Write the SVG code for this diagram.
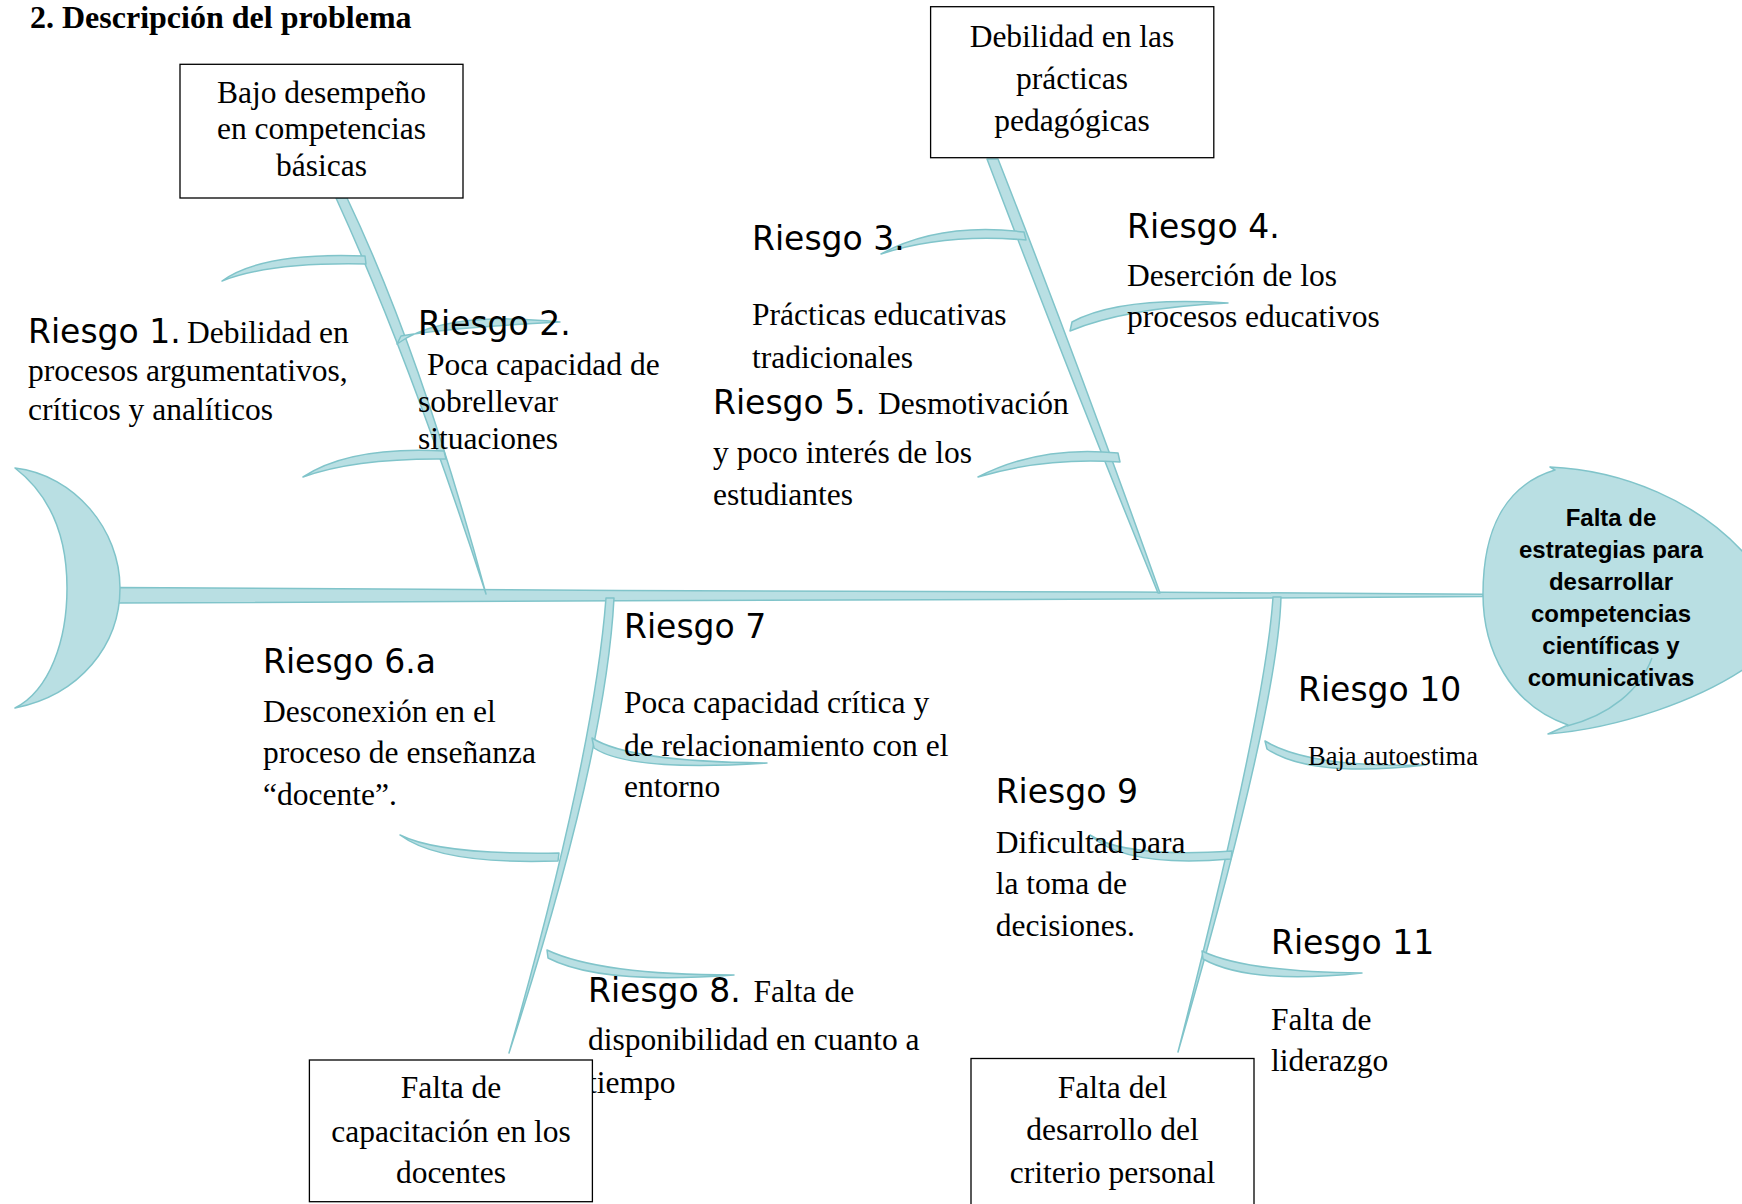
<svg xmlns="http://www.w3.org/2000/svg" width="1742" height="1204" viewBox="0 0 1742 1204">
<style>
.bone{fill:#b9dfe3;stroke:#80c4ca;stroke-width:1.5;stroke-linejoin:round}
.fold{fill:none;stroke:#80c4ca;stroke-width:1.5}
.box{fill:#fff;stroke:#000;stroke-width:1.3}
.t{font-family:"Liberation Serif","Times New Roman",serif;font-size:31.5px;fill:#000}
.r{font-family:"DejaVu Sans",sans-serif;font-size:33px;fill:#000}
.c{text-anchor:middle}
.h{font-family:"Liberation Sans",Arial,sans-serif;font-weight:bold;font-size:24px;text-anchor:middle;fill:#000}
</style>
<rect width="1742" height="1204" fill="#fff"/>
<text x="30" y="27.5" class="t" style="font-weight:bold;font-size:32px">2. Descripción del problema</text>

<g id="connectors">
  <path id="spine" class="bone" d="M118,587.5 L620,590.5 L1130,592 L1483,594.2 L1483,596.4 L1130,599 L620,600.8 L118,603 Z"/>
  <path id="boneA" class="bone" d="M336,198 Q409,357 486,594 Q421,353 347,198 Z"/>
  <path id="ribA1" class="bone" d="M222,281 Q262,252 365,256 L366,264 Q270,262 222,281 Z"/>
  <path id="ribA2" class="bone" d="M397,344 Q445,310 560,322 Q447,328 401,336 Z"/>
  <path id="ribA3" class="bone" d="M444,451 Q350,446 303,477 Q355,458 446,459 Z"/>
  <path id="boneB" class="bone" d="M987,159 Q1068,372 1158,593 L1160,593 Q1080,368 998,159 Z"/>
  <path id="ribB3" class="bone" d="M1024,232 Q940,222 881,254 Q945,233 1026,240 Z"/>
  <path id="ribB4" class="bone" d="M1072,322 Q1120,296 1228,303 Q1125,308 1070,331 Z"/>
  <path id="ribB5" class="bone" d="M1118,453 Q1040,445 978,477 Q1045,457 1120,462 Z"/>
  <path id="boneC" class="bone" d="M606,598 Q594,755 509,1053 Q606,755 614,598 Z"/>
  <path id="ribC7" class="bone" d="M592,738 Q630,762 767,763 Q630,772 594,748 Z"/>
  <path id="ribC6" class="bone" d="M400,835 Q440,855 559,853 L558,861 Q440,865 400,835 Z"/>
  <path id="ribC8" class="bone" d="M547,950 Q600,975 734,975 Q600,985 548,958 Z"/>
  <path id="boneD" class="bone" d="M1273,597 Q1266,708 1178,1052 Q1278,708 1281,597 Z"/>
  <path id="ribD10" class="bone" d="M1265,741 Q1310,768 1426,765 Q1310,778 1267,749 Z"/>
  <path id="ribD9" class="bone" d="M1090,835 Q1125,858 1232,851 L1231,859 Q1125,868 1090,835 Z"/>
  <path id="ribD11" class="bone" d="M1202,951 Q1245,972 1362,973 Q1250,985 1203,959 Z"/>
</g>

<g id="tail">
  <path class="bone" d="M15,468 C75,475 120,530 120,588 C120,645 80,695 15,708 C50,690 67,640 67,588 C67,535 50,495 15,468 Z"/>
</g>

<g id="head">
  <path class="bone" d="M1550,467 C1620,470 1700,500 1750,560 L1750,665 C1700,700 1620,728 1548,734 L1568,725 C1510,705 1483,650 1483,594 C1483,530 1505,485 1555,470 Z"/>
  <path class="fold" d="M1652,658 C1640,690 1610,715 1567,726"/>
  <text class="h" x="1611" y="526">Falta de</text>
  <text class="h" x="1611" y="558">estrategias para</text>
  <text class="h" x="1611" y="590">desarrollar</text>
  <text class="h" x="1611" y="622">competencias</text>
  <text class="h" x="1611" y="654">científicas y</text>
  <text class="h" x="1611" y="685.5">comunicativas</text>
</g>

<g id="riesgo1">
  <text class="r" x="28" y="343">Riesgo 1.</text>
  <text class="t" x="187" y="343">Debilidad en</text>
  <text class="t" x="28" y="381">procesos argumentativos,</text>
  <text class="t" x="28" y="420">críticos y analíticos</text>
</g>
<g id="riesgo2">
  <text class="r" x="418" y="335">Riesgo 2.</text>
  <text class="t" x="427" y="375">Poca capacidad de</text>
  <text class="t" x="418" y="412">sobrellevar</text>
  <text class="t" x="418" y="449">situaciones</text>
</g>
<g id="riesgo3">
  <text class="r" x="752" y="250">Riesgo 3.</text>
  <text class="t" x="752" y="325">Prácticas educativas</text>
  <text class="t" x="752" y="368">tradicionales</text>
</g>
<g id="riesgo4">
  <text class="r" x="1127" y="237.5">Riesgo 4.</text>
  <text class="t" x="1127" y="285.7">Deserción de los</text>
  <text class="t" x="1127" y="327">procesos educativos</text>
</g>
<g id="riesgo5">
  <text class="r" x="713" y="414">Riesgo 5.</text>
  <text class="t" x="878" y="414">Desmotivación</text>
  <text class="t" x="713" y="462.5">y poco interés de los</text>
  <text class="t" x="713" y="505.4">estudiantes</text>
</g>
<g id="riesgo6a">
  <text class="r" x="263" y="673">Riesgo 6.a</text>
  <text class="t" x="263" y="721.7">Desconexión en el</text>
  <text class="t" x="263" y="763.3">proceso de enseñanza</text>
  <text class="t" x="263" y="805">“docente”.</text>
</g>
<g id="riesgo7">
  <text class="r" x="624" y="638">Riesgo 7</text>
  <text class="t" x="624" y="713">Poca capacidad crítica y</text>
  <text class="t" x="624" y="755.5">de relacionamiento con el</text>
  <text class="t" x="624" y="797">entorno</text>
</g>
<g id="riesgo8">
  <text class="r" x="588" y="1001.7">Riesgo 8.</text>
  <text class="t" x="753.6" y="1001.7">Falta de</text>
  <text class="t" x="588" y="1050">disponibilidad en cuanto a</text>
  <text class="t" x="588" y="1093.3">tiempo</text>
</g>
<g id="riesgo9">
  <text class="r" x="995.7" y="802.8">Riesgo 9</text>
  <text class="t" x="995.7" y="852.6">Dificultad para</text>
  <text class="t" x="995.7" y="894">la toma de</text>
  <text class="t" x="995.7" y="936">decisiones.</text>
</g>
<g id="riesgo10">
  <text class="r" x="1298" y="701.4">Riesgo 10</text>
  <text class="t" x="1308" y="765" style="font-size:26.5px">Baja autoestima</text>
</g>
<g id="riesgo11">
  <text class="r" x="1271" y="954">Riesgo 11</text>
  <text class="t" x="1271" y="1029.7">Falta de</text>
  <text class="t" x="1271" y="1071.4">liderazgo</text>
</g>

<g id="box1">
  <rect class="box" x="180" y="64.3" width="283" height="133.7"/>
  <text class="t c" x="321.5" y="103">Bajo desempeño</text>
  <text class="t c" x="321.5" y="139">en competencias</text>
  <text class="t c" x="321.5" y="176">básicas</text>
</g>
<g id="box2">
  <rect class="box" x="930.6" y="6.7" width="283.2" height="151"/>
  <text class="t c" x="1072" y="46.5">Debilidad en las</text>
  <text class="t c" x="1072" y="88.7">prácticas</text>
  <text class="t c" x="1072" y="130.7">pedagógicas</text>
</g>
<g id="box3">
  <rect class="box" x="309.4" y="1060" width="283" height="141.7"/>
  <text class="t c" x="451" y="1098.3">Falta de</text>
  <text class="t c" x="451" y="1141.7">capacitación en los</text>
  <text class="t c" x="451" y="1183.3">docentes</text>
</g>
<g id="box4">
  <rect class="box" x="971" y="1058.5" width="283" height="200"/>
  <text class="t c" x="1112.5" y="1097.5">Falta del</text>
  <text class="t c" x="1112.5" y="1139.5">desarrollo del</text>
  <text class="t c" x="1112.5" y="1183">criterio personal</text>
</g>
</svg>
